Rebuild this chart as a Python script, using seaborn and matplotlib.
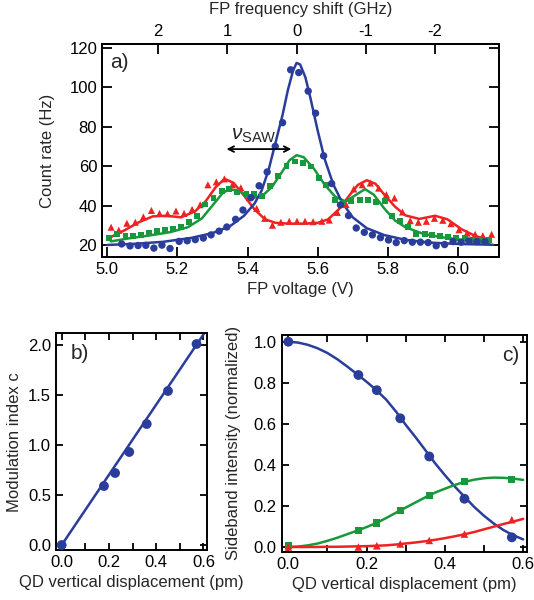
import matplotlib
matplotlib.use("Agg")
import matplotlib.pyplot as plt
from matplotlib.ticker import FormatStrFormatter, MultipleLocator
import seaborn as sns

# ---------------- panel a: FP scans ----------------
blue_v = [5.041, 5.065, 5.088, 5.110, 5.133, 5.156, 5.179, 5.205, 5.228, 5.251,
          5.274, 5.296, 5.319, 5.341, 5.366, 5.387, 5.410, 5.433, 5.456, 5.479,
          5.500, 5.523, 5.546, 5.573, 5.594, 5.617, 5.640, 5.665, 5.688, 5.710,
          5.733, 5.756, 5.779, 5.802, 5.824, 5.847, 5.870, 5.893, 5.915, 5.938,
          5.962, 5.986, 6.009, 6.031, 6.054, 6.077]
blue_c = [20.5, 19.5, 19.7, 19.8, 18.4, 19.9, 18.2, 21.8, 22.1, 22.7,
          23.5, 25.1, 27.0, 29.1, 33.0, 37.7, 44.0, 50.0, 57.0, 70.0,
          82.0, 108.8, 107.4, 98.0, 86.8, 65.2, 51.1, 40.3, 34.9, 28.6,
          26.4, 25.1, 23.7, 22.5, 21.2, 22.2, 21.4, 21.4, 21.2, 19.6,
          20.2, 21.7, 21.4, 22.0, 21.7, 21.7]

green_v = [5.005, 5.029, 5.052, 5.074, 5.097, 5.120, 5.143, 5.165, 5.188, 5.211,
           5.234, 5.257, 5.280, 5.303, 5.326, 5.348, 5.370, 5.397, 5.419, 5.442,
           5.464, 5.487, 5.511, 5.536, 5.557, 5.581, 5.604, 5.625, 5.649, 5.672,
           5.696, 5.720, 5.744, 5.767, 5.791, 5.811, 5.834, 5.858, 5.881, 5.905,
           5.927, 5.950, 5.972, 5.995, 6.019, 6.042, 6.065, 6.088]
green_c = [23.4, 25.6, 24.5, 24.4, 24.9, 26.1, 26.9, 27.6, 28.1, 29.1,
           31.5, 34.5, 40.5, 44.0, 47.5, 48.5, 47.0, 46.0, 46.0, 45.0,
           49.7, 55.1, 60.0, 62.3, 61.5, 59.8, 54.0, 50.5, 43.0, 41.5,
           42.5, 42.6, 42.6, 41.6, 42.3, 34.8, 32.0, 29.1, 25.4, 25.4,
           25.2, 24.5, 24.2, 23.5, 23.5, 22.7, 22.4, 22.7]

red_v = [5.011, 5.033, 5.056, 5.080, 5.103, 5.126, 5.149, 5.172, 5.196, 5.219,
         5.242, 5.265, 5.287, 5.311, 5.334, 5.357, 5.381, 5.405, 5.426, 5.449,
         5.471, 5.495, 5.519, 5.541, 5.564, 5.587, 5.612, 5.633, 5.656, 5.681,
         5.703, 5.727, 5.750, 5.774, 5.796, 5.819, 5.842, 5.864, 5.887, 5.910,
         5.933, 5.957, 5.980, 6.003, 6.026, 6.049, 6.071, 6.096]
red_c = [29.0, 27.5, 31.0, 31.5, 34.2, 37.5, 36.0, 35.8, 37.2, 36.0,
         38.0, 40.4, 50.5, 52.0, 53.5, 50.5, 49.0, 44.0, 38.5, 33.5,
         30.0, 31.5, 32.0, 32.0, 32.0, 31.8, 32.0, 32.6, 36.5, 40.5,
         48.4, 50.5, 51.4, 48.8, 45.5, 43.8, 36.7, 32.3, 31.5, 32.0,
         33.5, 32.5, 30.8, 27.7, 26.0, 25.4, 24.7, 25.4]

# fitted curves as drawn in the figure
blue_fit_v = [5.00, 5.08, 5.16, 5.24, 5.30, 5.35, 5.39, 5.42, 5.44, 5.46, 5.48,
              5.50, 5.515, 5.53, 5.54, 5.55, 5.565, 5.58, 5.60, 5.62, 5.645,
              5.67, 5.70, 5.74, 5.79, 5.85, 5.92, 6.00, 6.10]
blue_fit_c = [20.0, 20.6, 21.6, 23.6, 26.0, 29.5, 34.8, 41.0, 47.5, 58.0, 72.0,
              86.0, 98.5, 108.5, 112.3, 111.5, 105.0, 94.0, 78.0, 63.5, 50.5,
              41.5, 34.0, 28.5, 25.0, 22.6, 21.2, 20.5, 20.1]

green_fit_v = [5.01, 5.06, 5.12, 5.18, 5.23, 5.27, 5.30, 5.33, 5.35, 5.38, 5.41,
               5.44, 5.47, 5.50, 5.52, 5.54, 5.56, 5.59, 5.62, 5.65, 5.68, 5.71,
               5.735, 5.76, 5.79, 5.82, 5.85, 5.90, 5.95, 6.00, 6.05, 6.09]
green_fit_c = [21.8, 23.3, 24.8, 26.5, 29.0, 33.5, 40.0, 46.5, 48.3, 47.0, 43.8,
               44.5, 49.5, 57.5, 63.0, 65.5, 64.5, 58.5, 50.5, 44.5, 42.0, 45.5,
               48.3, 45.5, 38.5, 32.5, 29.0, 25.7, 24.0, 22.8, 21.8, 21.0]

red_fit_v = [5.01, 5.05, 5.09, 5.13, 5.17, 5.21, 5.25, 5.28, 5.31, 5.335, 5.36,
             5.39, 5.42, 5.45, 5.48, 5.52, 5.56, 5.60, 5.63, 5.66, 5.69, 5.715,
             5.74, 5.765, 5.79, 5.82, 5.85, 5.89, 5.935, 5.97, 6.01, 6.05, 6.09]
red_fit_c = [24.0, 27.5, 31.5, 34.5, 34.8, 34.0, 37.0, 42.0, 49.5, 53.5, 51.5,
             45.0, 38.0, 33.0, 31.2, 30.8, 30.8, 31.2, 33.0, 38.0, 45.0, 50.5,
             52.8, 51.0, 45.5, 39.5, 35.0, 33.2, 34.8, 33.0, 28.0, 24.5, 22.5]

# top axis: FP frequency shift
ghz_ticks = [2, 1, 0, -1, -2]
v_zero_shift = 5.54     # voltage at 0 GHz
v_per_ghz = 0.1975

# ---------------- panels b and c ----------------
disp = [0.0, 0.179, 0.226, 0.286, 0.360, 0.450, 0.571]
mod_index = [0.0, 0.59, 0.72, 0.93, 1.21, 1.54, 2.01]
mod_fit_x = [0.0, 0.61]
mod_fit_y = [0.0, 2.14]

carrier = [1.0, 0.838, 0.764, 0.627, 0.441, 0.235, 0.047]
first_sb = [0.006, 0.081, 0.117, 0.178, 0.253, 0.318, 0.331]
second_sb = [0.0, 0.0, 0.006, 0.015, 0.032, 0.063, 0.133]

fit_x = [0.0, 0.025, 0.05, 0.075, 0.1, 0.125, 0.15, 0.175, 0.2, 0.225, 0.25,
         0.275, 0.3, 0.325, 0.35, 0.375, 0.4, 0.425, 0.45, 0.475, 0.5, 0.525,
         0.55, 0.575, 0.6]
carrier_fit = [1.0, 0.996, 0.985, 0.968, 0.945, 0.915, 0.88, 0.843, 0.805,
               0.764, 0.718, 0.66, 0.595, 0.535, 0.472, 0.408, 0.35, 0.295,
               0.245, 0.195, 0.152, 0.114, 0.082, 0.057, 0.037]
first_fit = [0.0, 0.002, 0.008, 0.017, 0.03, 0.045, 0.062, 0.079, 0.097, 0.117,
             0.141, 0.167, 0.192, 0.217, 0.242, 0.265, 0.284, 0.302, 0.317,
             0.328, 0.335, 0.338, 0.337, 0.333, 0.327]
second_fit = [0.0, 0.0, 0.0, 0.0, 0.001, 0.001, 0.002, 0.003, 0.004, 0.006,
              0.008, 0.012, 0.017, 0.022, 0.028, 0.035, 0.043, 0.052, 0.062,
              0.073, 0.086, 0.099, 0.112, 0.124, 0.137]

BLUE = '#2b3d9b'
GREEN = '#17993b'
RED = '#ee2222'
FS = 12

sns.set_style("ticks")
plt.rcParams['font.family'] = ['Liberation Sans', 'DejaVu Sans']
plt.rcParams['axes.unicode_minus'] = False
plt.rcParams['mathtext.fontset'] = 'custom'
plt.rcParams['mathtext.rm'] = 'Liberation Sans'
plt.rcParams['mathtext.it'] = 'Liberation Sans:italic'
plt.rcParams['font.size'] = FS

fig = plt.figure(figsize=(5.34, 6.0), dpi=100)
ax_a = fig.add_axes([0.191, 0.5717, 0.7434, 0.355])
ax_b = fig.add_axes([0.1049, 0.0833, 0.2822, 0.3612])
ax_c = fig.add_axes([0.5275, 0.0805, 0.4588, 0.3612])

def style_frame(ax, tick_len):
    for s in ax.spines.values():
        s.set_linewidth(1.4)
        s.set_color('black')
    ax.tick_params(which='both', direction='in', length=tick_len, width=1.3,
                   colors='black', labelsize=FS)

def line(ax, x, y, c):
    sns.lineplot(x=x, y=y, ax=ax, color=c, lw=1.8, sort=False, estimator=None)

def dots(ax, x, y, c, m, s):
    sns.scatterplot(x=x, y=y, ax=ax, color=c, marker=m, s=s, edgecolor='none',
                    zorder=3)

# ---- panel a ----
dots(ax_a, red_v, red_c, RED, '^', 26)
dots(ax_a, green_v, green_c, GREEN, 's', 18)
dots(ax_a, blue_v, blue_c, BLUE, 'o', 28)
line(ax_a, red_fit_v, red_fit_c, RED)
line(ax_a, green_fit_v, green_fit_c, GREEN)
line(ax_a, blue_fit_v, blue_fit_c, BLUE)

ax_a.set_xlim(4.985, 6.117)
ax_a.set_ylim(13.9, 121.9)
ax_a.set_xticks([5.0, 5.2, 5.4, 5.6, 5.8, 6.0])
ax_a.xaxis.set_major_formatter(FormatStrFormatter('%.1f'))
ax_a.set_yticks([20, 40, 60, 80, 100, 120])
style_frame(ax_a, 7)
ax_a.tick_params(right=True, top=False)
ax_a.set_xlabel("FP voltage (V)", fontsize=FS)
ax_a.set_ylabel("Count rate (Hz)", fontsize=FS, labelpad=10)
ax_a.text(0.02, 0.96, "a)", transform=ax_a.transAxes, fontsize=15,
          ha='left', va='top')

ax_top = ax_a.twiny()
ax_top.set_xlim(ax_a.get_xlim())
ax_top.set_xticks([v_zero_shift - v_per_ghz * g for g in ghz_ticks])
ax_top.set_xticklabels([str(g) for g in ghz_ticks])
style_frame(ax_top, 7)
ax_top.set_xlabel("FP frequency shift (GHz)", fontsize=FS, labelpad=7)

ax_a.annotate('', xy=(5.525, 68.6), xytext=(5.340, 68.6),
              arrowprops=dict(arrowstyle='<->', lw=1.3, color='black',
                              shrinkA=0, shrinkB=0, mutation_scale=10))
ax_a.text(5.352, 70.5, r'$\nu_{\mathrm{SAW}}$', fontsize=15, ha='left',
          va='bottom')

# ---- panel b ----
line(ax_b, mod_fit_x, mod_fit_y, BLUE)
dots(ax_b, disp, mod_index, BLUE, 'o', 50)
ax_b.set_xlim(-0.024, 0.614)
ax_b.set_ylim(-0.05, 2.117)
ax_b.xaxis.set_major_locator(MultipleLocator(0.2))
ax_b.xaxis.set_minor_locator(MultipleLocator(0.1))
ax_b.yaxis.set_major_locator(MultipleLocator(0.5))
ax_b.xaxis.set_major_formatter(FormatStrFormatter('%.1f'))
ax_b.yaxis.set_major_formatter(FormatStrFormatter('%.1f'))
style_frame(ax_b, 5)
ax_b.tick_params(which='both', top=True, right=True)
ax_b.set_xlabel("QD vertical displacement (pm)", fontsize=FS)
ax_b.set_ylabel("Modulation index c", fontsize=FS)
ax_b.text(0.1, 0.95, "b)", transform=ax_b.transAxes, fontsize=15,
          ha='left', va='top')

# ---- panel c ----
line(ax_c, fit_x, carrier_fit, BLUE)
line(ax_c, fit_x, first_fit, GREEN)
line(ax_c, fit_x, second_fit, RED)
dots(ax_c, disp, carrier, BLUE, 'o', 50)
dots(ax_c, disp, first_sb, GREEN, 's', 26)
dots(ax_c, disp, second_sb, RED, '^', 30)
ax_c.set_xlim(-0.017, 0.609)
ax_c.set_ylim(-0.023, 1.033)
ax_c.xaxis.set_major_locator(MultipleLocator(0.2))
ax_c.xaxis.set_minor_locator(MultipleLocator(0.1))
ax_c.yaxis.set_major_locator(MultipleLocator(0.2))
ax_c.xaxis.set_major_formatter(FormatStrFormatter('%.1f'))
ax_c.yaxis.set_major_formatter(FormatStrFormatter('%.1f'))
style_frame(ax_c, 5)
ax_c.tick_params(which='both', top=True, right=True)
ax_c.set_xlabel("QD vertical displacement (pm)", fontsize=FS)
ax_c.set_ylabel("Sideband intensity (normalized)", fontsize=FS, labelpad=9)
ax_c.text(0.97, 0.95, "c)", transform=ax_c.transAxes, fontsize=15,
          ha='right', va='top')

fig.savefig("out.png", dpi=100)
